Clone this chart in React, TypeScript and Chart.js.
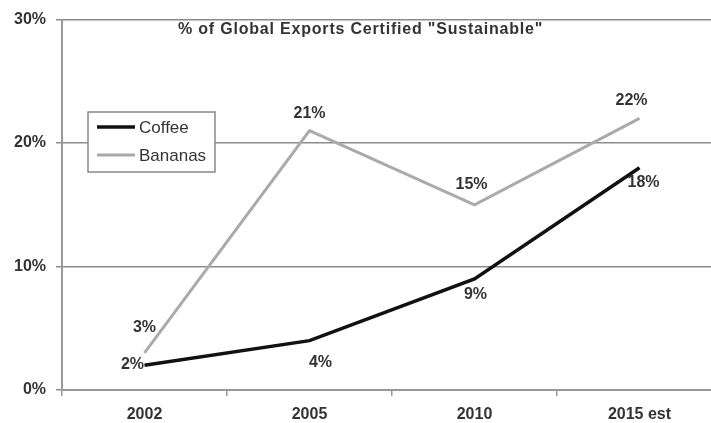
import React, { useEffect, useRef } from 'react';
import { Chart, registerables } from 'chart.js';

Chart.register(...registerables);

const categories = ['2002', '2005', '2010', '2015 est'];
const coffee = [2, 4, 9, 18];
const bananas = [3, 21, 15, 22];
const yTickValues = [0, 10, 20, 30];
const chartTitle = '% of Global Exports Certified "Sustainable"';

// label offsets (pixels) relative to each point
const labelOffsets: number[][][] = [
  [[-12, -1], [11, 22], [1, 16], [4, 15]],
  [[0, -25], [0, -17], [-3, -20], [-8, -18]],
];

const FONT = '"Liberation Sans", Arial, sans-serif';

const overlayPlugin = {
  id: 'overlay',
  afterDatasetsDraw(chart: any) {
    const ctx = chart.ctx;
    ctx.save();
    // data labels
    ctx.font = `bold 16px ${FONT}`;
    ctx.fillStyle = '#333';
    ctx.textAlign = 'center';
    ctx.textBaseline = 'middle';
    chart.data.datasets.forEach((ds: any, di: number) => {
      const meta = chart.getDatasetMeta(di);
      meta.data.forEach((pt: any, i: number) => {
        const off = labelOffsets[di][i];
        ctx.fillText(ds.data[i] + '%', pt.x + off[0], pt.y + off[1]);
      });
    });
    // title
    ctx.font = `bold 16px ${FONT}`;
    ctx.fillStyle = '#333';
    ctx.textAlign = 'left';
    try {
      (ctx as any).letterSpacing = '0.8px';
    } catch (e) {}
    ctx.fillText(chartTitle, 178, 30);
    try {
      (ctx as any).letterSpacing = '0px';
    } catch (e) {}
    // legend
    const bx = 88, by = 112, bw = 127, bh = 60;
    ctx.fillStyle = '#fff';
    ctx.fillRect(bx, by, bw, bh);
    ctx.strokeStyle = '#888';
    ctx.lineWidth = 1.5;
    ctx.strokeRect(bx, by, bw, bh);
    ctx.font = `17px ${FONT}`;
    ctx.textAlign = 'left';
    chart.data.datasets.forEach((ds: any, di: number) => {
      const y = by + 15 + di * 28;
      ctx.strokeStyle = ds.borderColor;
      ctx.lineWidth = ds.borderWidth;
      ctx.beginPath();
      ctx.moveTo(bx + 9, y);
      ctx.lineTo(bx + 47, y);
      ctx.stroke();
      ctx.fillStyle = '#333';
      ctx.fillText(ds.label, bx + 51, y + 1);
    });
    ctx.restore();
  },
};

export default function App() {
  const ref = useRef<HTMLCanvasElement>(null);
  useEffect(() => {
    if (!ref.current) return;
    const chart = new Chart(ref.current, {
      type: 'line',
      data: {
        labels: categories,
        datasets: [
          {
            label: 'Coffee',
            data: coffee,
            borderColor: '#111',
            borderWidth: 3.5,
            pointRadius: 0,
            tension: 0,
          },
          {
            label: 'Bananas',
            data: bananas,
            borderColor: '#aaa',
            borderWidth: 3,
            pointRadius: 0,
            tension: 0,
          },
        ],
      },
      options: {
        animation: false,
        responsive: false,
        devicePixelRatio: 1,
        layout: { padding: { top: 15, left: 0, right: 0, bottom: 0 } },
        plugins: {
          legend: { display: false },
          tooltip: { enabled: false },
        },
        scales: {
          x: {
            offset: true,
            grid: {
              display: true,
              drawOnChartArea: false,
              drawTicks: true,
              tickLength: 6,
              color: '#999',
              lineWidth: 1.5,
              offset: true,
            },
            border: { color: '#999', width: 2 },
            ticks: {
              font: { family: FONT, size: 16, weight: 'bold' },
              color: '#333',
              padding: 9,
              maxRotation: 0,
            },
            afterFit: (s: any) => {
              s.height = 33;
            },
          },
          y: {
            min: 0,
            max: 30,
            afterBuildTicks: (s: any) => {
              s.ticks = yTickValues.map((v) => ({ value: v }));
            },
            ticks: {
              font: { family: FONT, size: 16, weight: 'bold' },
              color: '#333',
              padding: 10,
              callback: (v: any) => v + '%',
            },
            grid: {
              color: '#8c8c8c',
              lineWidth: 1.5,
              tickLength: 6,
            },
            border: { color: '#999', width: 2 },
            afterFit: (s: any) => {
              s.width = 62;
            },
          },
        },
      },
      plugins: [overlayPlugin],
    });
    return () => chart.destroy();
  }, []);
  return (
    <div
      style={{
        position: 'fixed',
        left: 0,
        top: 0,
        width: 711,
        height: 423,
        overflow: 'hidden',
        background: '#fff',
      }}
    >
      <canvas ref={ref} width={722} height={423} style={{ width: 722, height: 423, display: 'block' }} />
    </div>
  );
}
